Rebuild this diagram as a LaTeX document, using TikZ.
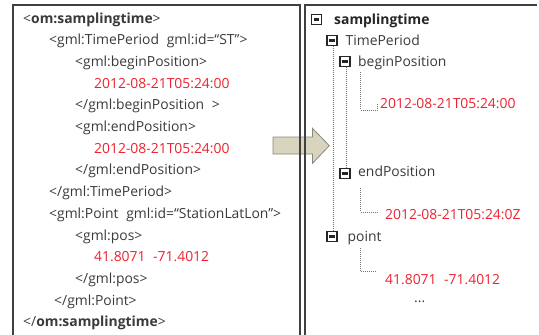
\documentclass[tikz,border=0pt]{standalone}
\usepackage{fontspec}
\setmainfont{Open Sans}
\definecolor{ink}{RGB}{58,58,58}
\definecolor{val}{RGB}{238,34,46}
\definecolor{arrowfill}{RGB}{216,212,190}
\definecolor{arrowedge}{RGB}{135,135,125}
\newcommand{\gap}{\hspace{0.55em}}
\begin{document}
\begin{tikzpicture}[x=1pt,y=-1pt,
  txt/.style={anchor=base west, inner sep=0pt, text=ink, font=\fontsize{13.9}{16}\selectfont},
  valtxt/.style={txt, text=val},
  frame/.style={draw=black!75, line width=1.3pt},
  treeline/.style={draw=black!55, line width=0.7pt, dash pattern=on 1pt off 1pt},
  tog/.style={draw=black!85, line width=1.6pt, fill=white, minimum size=9.8pt, inner sep=0pt,
    path picture={\fill[black!85] ([xshift=-2.7pt,yshift=-1.2pt]path picture bounding box.center)
      rectangle ([xshift=2.7pt,yshift=1.2pt]path picture bounding box.center);}}
]
\useasboundingbox (0,0) rectangle (539,335);

% transformation arrow between the two panels
\draw[fill=arrowfill, draw=arrowedge, line width=0.8pt]
  (273,137) -- (312.5,137) -- (312.5,128.3) -- (329.3,145.7) -- (312.5,163.3)
  -- (312.5,154) -- (273,154) -- cycle;

% panel frames
\draw[frame] (13,336) -- (13,5) -- (300,5) -- (300,336);
\draw[frame] (305,336) -- (305,5) -- (537,5);

% XML listing
\node[txt] (l1)  at (23,23)    {<\textbf{om:samplingtime}>};
\node[txt] (l2)  at (49,44.7)  {<gml:TimePeriod\gap gml:id=“ST”>};
\node[txt] (l3)  at (75,66.4)  {<gml:beginPosition>};
\node[valtxt] (l4) at (94,88.1) {2012-08-21T05:24:00};
\node[txt] (l5)  at (75,109.8) {</gml:beginPosition\gap >};
\node[txt] (l6)  at (75,131.5) {<gml:endPosition>};
\node[valtxt] (l7) at (94,153.2) {2012-08-21T05:24:00};
\node[txt] (l8)  at (75,174.9) {</gml:endPosition>};
\node[txt] (l9)  at (49,196.6) {</gml:TimePeriod>};
\node[txt] (l10) at (49,218.3) {<gml:Point\gap gml:id=“StationLatLon”>};
\node[txt] (l11) at (75,240)   {<gml:pos>};
\node[valtxt] (l12) at (94,261.7) {41.8071\gap -71.4012};
\node[txt] (l13) at (75,283.4) {</gml:pos>};
\node[txt] (l14) at (54,305.1) {</gml:Point>};
\node[txt] (l15) at (23,326.8) {</\textbf{om:samplingtime}>};

% tree view
\node[tog] (t0) at (316.5,19.5) {};
\node[tog] (t1) at (332,40.5) {};
\node[tog] (t2) at (345,61.5) {};
\node[tog] (t3) at (345,173.5) {};
\node[tog] (t4) at (332,236.5) {};

\node[txt, font=\fontsize{13.9}{16}\selectfont\bfseries, text=black!85] (n0) at (334,24) {samplingtime};
\node[txt] (n1) at (345.5,45) {TimePeriod};
\node[txt] (n2) at (358,66.5) {beginPosition};
\node[txt] (n3) at (358,176) {endPosition};
\node[txt] (n4) at (347.5,241.5) {point};

\node[valtxt] (v1) at (380,108.5) {2012-08-21T05:24:00};
\node[valtxt] (v2) at (385,219) {2012-08-21T05:24:0Z};
\node[valtxt] (v3) at (385,284) {41.8071\gap -71.4012};
\node[txt] (more) at (414,302) {...};

% guide lines of the tree
\draw[treeline] ([xshift=1.8pt]t1.south) -- ([xshift=1.8pt]t4.north);
\draw[treeline] ([xshift=1.5pt]t2.south) -- ([xshift=1.5pt]t3.north);

\coordinate (b1) at (360.5,72);
\coordinate (b1e) at (377,110);
\draw[treeline] (b1) |- (b1e) -- ++(0,-6);
\coordinate (b2) at (360.5,188);
\coordinate (b2e) at (377,212);
\draw[treeline] (b2) |- (b2e);
\coordinate (b3) at (360.5,248);
\coordinate (b3e) at (377,271.5);
\draw[treeline] (b3) |- (b3e);
\end{tikzpicture}
\end{document}
